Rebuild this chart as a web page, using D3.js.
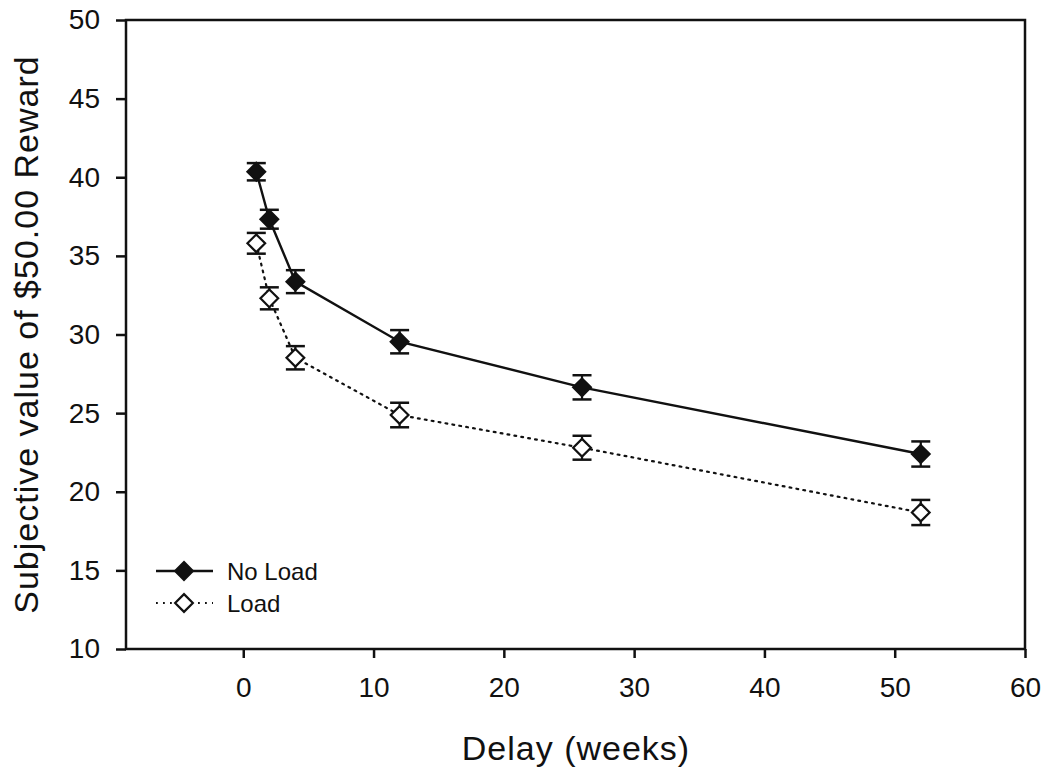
<!DOCTYPE html>
<html>
<head>
<meta charset="utf-8">
<script src="https://cdn.jsdelivr.net/npm/d3@7"></script>
<style>
html,body{margin:0;padding:0;background:#fff;}
svg{display:block;}
text{font-family:"Liberation Sans",Arial,sans-serif;fill:#111;}
</style>
</head>
<body>
<svg id="chart" width="1050" height="772"></svg>
<script>
const delays = [1, 2, 4, 12, 26, 52];
const noLoad = [40.35, 37.33, 33.36, 29.54, 26.64, 22.4];
const noLoadErr = [0.55, 0.6, 0.73, 0.74, 0.77, 0.8];
const load = [35.8, 32.3, 28.52, 24.88, 22.8, 18.68];
const loadErr = [0.66, 0.7, 0.74, 0.78, 0.76, 0.8];
const xTicks = [0, 10, 20, 30, 40, 50, 60];
const yTicks = [10, 15, 20, 25, 30, 35, 40, 45, 50];
const seriesNames = ["No Load", "Load"];

const svg = d3.select("#chart");
const L = 126, R = 1025, T = 20, B = 649;
const x = d3.scaleLinear().domain([-9, 60]).range([L, R]);
const y = d3.scaleLinear().domain([10, 50]).range([B, T]);

// frame
svg.append("rect").attr("x", L).attr("y", T).attr("width", R - L).attr("height", B - T)
  .attr("fill", "none").attr("stroke", "#111").attr("stroke-width", 2.5);

const xAxis = svg.append("g").attr("transform", `translate(0,${B})`)
  .call(d3.axisBottom(x).tickValues(xTicks).tickSize(9).tickPadding(19).tickFormat(d3.format("d")));
const yAxis = svg.append("g").attr("transform", `translate(${L},0)`)
  .call(d3.axisLeft(y).tickValues(yTicks).tickSize(10).tickPadding(16).tickFormat(d3.format("d")));
[xAxis, yAxis].forEach(g => {
  g.select(".domain").remove();
  g.selectAll("line").attr("stroke", "#111").attr("stroke-width", 2.5);
  g.selectAll("text").style("font-family", "Liberation Sans, Arial, sans-serif")
    .style("font-size", "28px").attr("fill", "#111");
});

// axis titles
svg.append("text").attr("x", 576).attr("y", 760).attr("text-anchor", "middle")
  .style("font-size", "34px").style("letter-spacing", "1px").text("Delay (weeks)");
svg.append("text").attr("transform", `translate(38,${(T + B) / 2}) rotate(-90)`)
  .attr("text-anchor", "middle").style("font-size", "34px").style("letter-spacing", "1px")
  .text("Subjective value of $50.00 Reward");

const data = [
  {vals: noLoad, err: noLoadErr, fill: "#111", dash: null, sw: 2.4},
  {vals: load, err: loadErr, fill: "#fff", dash: "1.8,5.2", sw: 2.2}
];

const line = d3.line().x(d => x(d[0])).y(d => y(d[1]));
const diamond = d3.symbol().type(d3.symbolDiamond2).size(200);

data.forEach(s => {
  const pts = delays.map((d, i) => [d, s.vals[i], s.err[i]]);
  svg.append("path").datum(pts).attr("d", line).attr("fill", "none")
    .attr("stroke", "#111").attr("stroke-width", s.sw)
    .attr("stroke-dasharray", s.dash).attr("stroke-linecap", "round");
  const g = svg.append("g");
  pts.forEach(p => {
    const cx = x(p[0]), y1 = y(p[1] + p[2]), y2 = y(p[1] - p[2]);
    g.append("line").attr("x1", cx).attr("x2", cx).attr("y1", y1).attr("y2", y2)
      .attr("stroke", "#111").attr("stroke-width", 2.2);
    [y1, y2].forEach(yy => g.append("line").attr("x1", cx - 9.5).attr("x2", cx + 9.5)
      .attr("y1", yy).attr("y2", yy).attr("stroke", "#111").attr("stroke-width", 2.5));
    g.append("path").attr("d", diamond).attr("transform", `translate(${cx},${y(p[1])})`)
      .attr("fill", s.fill).attr("stroke", "#111").attr("stroke-width", 2.2);
  });
});

// legend
const legY = [571, 603];
data.forEach((s, i) => {
  svg.append("line").attr("x1", 156).attr("x2", 213).attr("y1", legY[i]).attr("y2", legY[i])
    .attr("stroke", "#111").attr("stroke-width", s.sw).attr("stroke-dasharray", s.dash);
  svg.append("path").attr("d", diamond).attr("transform", `translate(184,${legY[i]})`)
    .attr("fill", s.fill).attr("stroke", "#111").attr("stroke-width", 2.2);
  svg.append("text").attr("x", 227).attr("y", legY[i] + 9).style("font-size", "24px").text(seriesNames[i]);
});
</script>
</body>
</html>
